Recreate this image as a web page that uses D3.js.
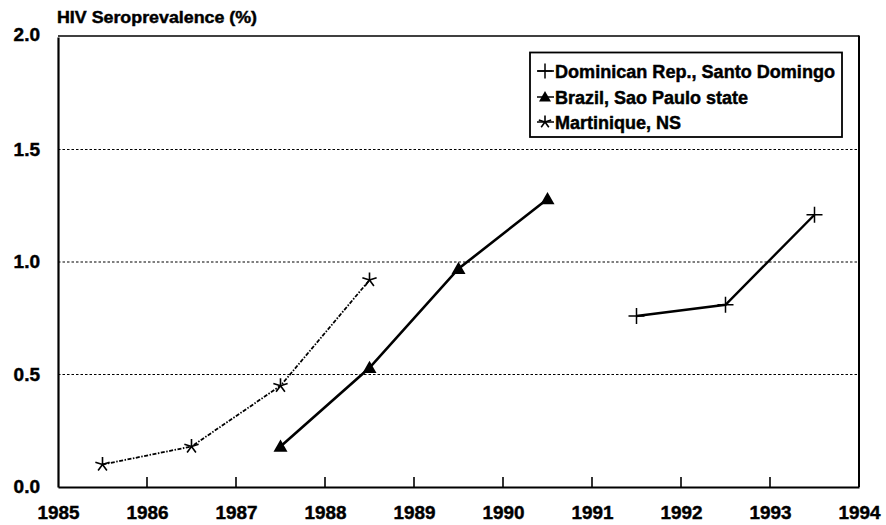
<!DOCTYPE html>
<html><head><meta charset="utf-8">
<script src="https://cdn.jsdelivr.net/npm/d3@7"></script>
<style>body{margin:0;background:#fff}svg{display:block}text{font-family:"Liberation Sans",Arial,sans-serif;font-weight:bold;fill:#000;stroke:#000;stroke-width:0.45px}</style>
</head><body>
<svg id="c" width="886" height="525"></svg>
<script>
const yearTicks = [1985,1986,1987,1988,1989,1990,1991,1992,1993,1994];
const yTicks = [0.0,0.5,1.0,1.5,2.0];
const gridValues = [0.5,1.0,1.5];
const seriesNames = ["Dominican Rep., Santo Domingo","Brazil, Sao Paulo state","Martinique, NS"];
const domYears = [1991.5,1992.5,1993.5];
const domValues = [0.76,0.81,1.21];
const braYears = [1987.5,1988.5,1989.5,1990.5];
const braValues = [0.18,0.53,0.97,1.28];
const marYears = [1985.5,1986.5,1987.5,1988.5];
const marValues = [0.10,0.18,0.45,0.92];
const yTitle = "HIV Seroprevalence (%)";

const svg = d3.select("#c");
const L=58,R=859,T=37,B=487;
const x = d3.scaleLinear().domain([1985,1994]).range([L,R]);
const y = d3.scaleLinear().domain([0,2]).range([B,T]);

// grid
svg.append("g").selectAll("line").data(gridValues).join("line")
  .attr("x1",L).attr("x2",R).attr("y1",d=>y(d)).attr("y2",d=>y(d))
  .attr("stroke","#000").attr("stroke-width",1.2).attr("stroke-dasharray","2.5,2");
// frame top & right
svg.append("line").attr("x1",L).attr("x2",R).attr("y1",y(2)-1).attr("y2",y(2)-1).attr("stroke","#000").attr("stroke-width",1.3);
svg.append("line").attr("x1",R).attr("x2",R).attr("y1",y(2)-1.5).attr("y2",B).attr("stroke","#000").attr("stroke-width",2);

// x axis
const xAxis = d3.axisBottom(x).tickValues(yearTicks).tickFormat(d3.format("d")).tickSize(0).tickPadding(19);
const gx = svg.append("g").attr("transform",`translate(0,${B})`).call(xAxis);
gx.select(".domain").attr("stroke","#000").attr("stroke-width",2.2);
gx.selectAll("text").style("font-size","19px").style("font-family","Liberation Sans, Arial").style("font-weight","bold")
  .attr("textLength",42).attr("lengthAdjust","spacingAndGlyphs");
svg.append("g").selectAll("line").data(yearTicks.slice(1,-1)).join("line")
  .attr("x1",d=>x(d)).attr("x2",d=>x(d)).attr("y1",B).attr("y2",B-10)
  .attr("stroke","#000").attr("stroke-width",1.6);

// y axis
const yAxis = d3.axisLeft(y).tickValues(yTicks).tickFormat(d3.format(".1f")).tickSize(0).tickPadding(18);
const gy = svg.append("g").attr("transform",`translate(${L},0)`).call(yAxis);
gy.select(".domain").attr("stroke","#000").attr("stroke-width",2.2);
gy.selectAll("text").style("font-size","19px").style("font-family","Liberation Sans, Arial").style("font-weight","bold").attr("dy","0.3em");
gy.selectAll(".tick").filter(d=>d===2).select("text").attr("dy","0.2em");

svg.append("text").attr("x",L-1).attr("y",23).style("font-size","16.5px").attr("textLength",200).attr("lengthAdjust","spacingAndGlyphs").text(yTitle);

// markers
function plus(g,cx,cy,s){g.append("path").attr("d",`M${cx-s},${cy}H${cx+s}M${cx},${cy-s}V${cy+s}`).attr("stroke","#000").attr("stroke-width",1.5).attr("fill","none");}
function tri(g,cx,cy,s){g.append("path").attr("d",`M${cx},${cy-s}L${cx+s},${cy+s*0.75}L${cx-s},${cy+s*0.75}Z`).attr("fill","#000");}
function star(g,cx,cy,s){let p="";for(let i=0;i<5;i++){const a=-Math.PI/2+i*2*Math.PI/5;p+=`M${cx},${cy}L${cx+s*Math.cos(a)},${cy+s*Math.sin(a)}`;}
  g.append("path").attr("d",p).attr("stroke","#000").attr("stroke-width",1.6).attr("fill","none");}

const line = d3.line().x(d=>x(d[0])).y(d=>y(d[1]));
const dom = d3.zip(domYears,domValues), bra = d3.zip(braYears,braValues), mar = d3.zip(marYears,marValues);
svg.append("path").datum(mar).attr("d",line).attr("fill","none").attr("stroke","#000").attr("stroke-width",1.8).attr("stroke-dasharray","4,1.5,1.5,1.5");
svg.append("path").datum(bra).attr("d",line).attr("fill","none").attr("stroke","#000").attr("stroke-width",2.6);
svg.append("path").datum(dom).attr("d",line).attr("fill","none").attr("stroke","#000").attr("stroke-width",2.4);
const gm = svg.append("g");
dom.forEach(d=>plus(gm,x(d[0]),y(d[1]),8));
bra.forEach(d=>tri(gm,x(d[0]),y(d[1]),7));
mar.forEach(d=>star(gm,x(d[0]),y(d[1]),7.5));

// legend
const lg = svg.append("g");
lg.append("rect").attr("x",530).attr("y",52.5).attr("width",312).attr("height",84.5).attr("fill","#fff").attr("stroke","#000").attr("stroke-width",1.8);
const rowY = [71,97,122];
seriesNames.forEach((n,i)=>{
  const cy=rowY[i];
  lg.append("line").attr("x1",537).attr("x2",554).attr("y1",cy).attr("y2",cy).attr("stroke","#000").attr("stroke-width",1.5);
  if(i===0) plus(lg,545,cy,7.5); else if(i===1) tri(lg,545,cy,6); else star(lg,545,cy,6.5);
  const t = lg.append("text").attr("x",555).attr("y",cy+6.5).style("font-size","18px").text(n);
  if(i===0) t.attr("textLength",280).attr("lengthAdjust","spacingAndGlyphs");
});
</script>
</body></html>
